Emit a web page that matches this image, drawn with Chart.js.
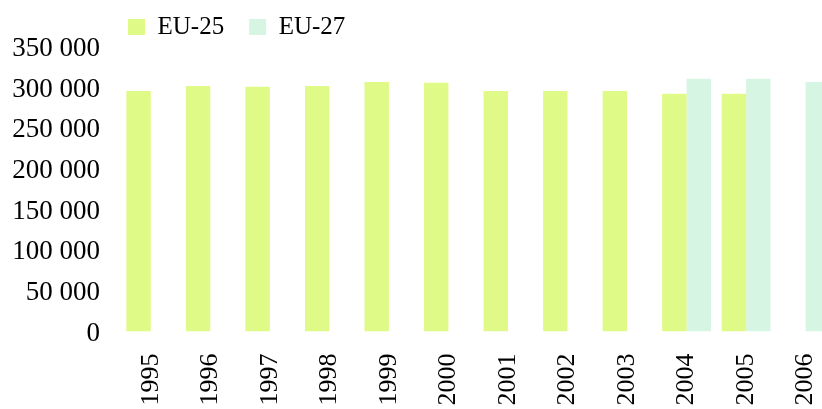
<!DOCTYPE html>
<html>
<head>
<meta charset="utf-8">
<script src="https://cdn.jsdelivr.net/npm/chart.js@4/dist/chart.umd.min.js"></script>
<style>
  html, body { margin: 0; padding: 0; background: #fff; overflow: hidden; }
  canvas { display: block; }
</style>
</head>
<body>
<canvas id="myChart" width="859" height="409"></canvas>
<script>
var years = ["1995", "1996", "1997", "1998", "1999", "2000",
             "2001", "2002", "2003", "2004", "2005", "2006"];

var eu25 = [296000, 302000, 301000, 302000, 307000, 306000,
            296000, 296000, 296000, 292500, 292500, null];
var eu27 = [null, null, null, null, null, null,
            null, null, null, 311000, 311000, 307000];

var yTicks = [0, 50000, 100000, 150000, 200000, 250000, 300000, 350000];

var serif = "'Liberation Serif', 'Times New Roman', serif";

// legend sits left of centre in the original, so move it after layout
var moveLegend = {
  id: "moveLegend",
  afterLayout: function (chart) {
    chart.legend.left = 103;
    chart.legend.top = -10.5;
  }
};

var ctx = document.getElementById("myChart").getContext("2d");
var myBarChart = new Chart(ctx, {
  type: "bar",
  data: {
    labels: years,
    datasets: [
      {
        label: "EU-25",
        data: eu25,
        backgroundColor: "#e0fa87",
        categoryPercentage: 0.82,
        barPercentage: 1.0
      },
      {
        label: "EU-27",
        data: eu27,
        backgroundColor: "#d7f5e3",
        categoryPercentage: 0.82,
        barPercentage: 1.0
      }
    ]
  },
  options: {
    responsive: false,
    animation: false,
    layout: { padding: { top: 17, left: 0, right: 4, bottom: 0 } },
    plugins: {
      tooltip: { enabled: false },
      legend: {
        position: "top",
        align: "start",
        maxHeight: 30,
        labels: {
          boxWidth: 17,
          boxHeight: 16,
          padding: 25,
          color: "#000",
          font: { family: serif, size: 25 }
        }
      }
    },
    scales: {
      x: {
        grid: { display: false, drawTicks: false },
        border: { display: false },
        afterFit: function (axis) { axis.height = 77.5; },
        ticks: {
          autoSkip: false,
          minRotation: 90,
          maxRotation: 90,
          padding: 22,
          color: "#000",
          font: { family: serif, size: 26 }
        }
      },
      y: {
        min: 0,
        max: 350000,
        grid: { display: false, drawTicks: false },
        border: { display: false },
        afterFit: function (axis) { axis.width = 121; },
        afterBuildTicks: function (axis) {
          axis.ticks = yTicks.map(function (v) { return { value: v }; });
        },
        ticks: {
          padding: 21,
          labelOffset: 2,
          color: "#000",
          font: { family: serif, size: 27 },
          callback: function (v) {
            return String(v).replace(/\B(?=(\d{3})+(?!\d))/g, " ");
          }
        }
      }
    }
  },
  plugins: [moveLegend]
});
</script>
</body>
</html>
